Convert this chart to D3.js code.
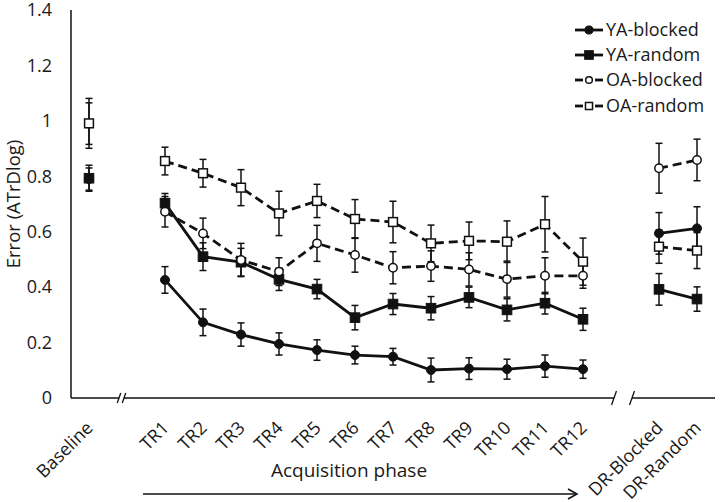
<!DOCTYPE html>
<html>
<head>
<meta charset="utf-8">
<script src="https://cdn.jsdelivr.net/npm/d3@7"></script>
<style>
  html, body { margin: 0; padding: 0; background: #fff; }
  svg { display: block; }
  text { font-family: "Open Sans", sans-serif; fill: #1a1a1a; }
</style>
</head>
<body>
<svg id="chart" width="720" height="502"></svg>
<script>
// ---------------- DATA ----------------
// x slots (gap slots are axis breaks)
const categories = ["Baseline", "", "TR1", "TR2", "TR3", "TR4", "TR5", "TR6", "TR7", "TR8", "TR9", "TR10", "TR11", "TR12", " ", "DR-Blocked", "DR-Random"];

const yTicks = [0, 0.2, 0.4, 0.6, 0.8, 1, 1.2, 1.4];

const seriesNames = ["YA-blocked", "YA-random", "OA-blocked", "OA-random"];

const yaBlocked    = [0.79, null, 0.426, 0.273, 0.229, 0.195, 0.173, 0.155, 0.149, 0.101, 0.106, 0.104, 0.115, 0.104, null, 0.594, 0.612];
const yaBlockedErr = [0.040, null, 0.048, 0.048, 0.042, 0.040, 0.037, 0.032, 0.030, 0.043, 0.039, 0.036, 0.040, 0.033, null, 0.075, 0.078];

const yaRandom     = [0.793, null, 0.703, 0.510, 0.490, 0.428, 0.393, 0.290, 0.339, 0.324, 0.363, 0.318, 0.342, 0.284, null, 0.392, 0.357];
const yaRandomErr  = [0.047, null, 0.035, 0.050, 0.050, 0.040, 0.035, 0.044, 0.038, 0.042, 0.037, 0.040, 0.039, 0.040, null, 0.057, 0.044];

const oaBlocked    = [0.99, null, 0.672, 0.594, 0.498, 0.456, 0.558, 0.516, 0.470, 0.476, 0.464, 0.429, 0.441, 0.441, null, 0.829, 0.859];
const oaBlockedErr = [0.075, null, 0.055, 0.055, 0.060, 0.050, 0.065, 0.062, 0.058, 0.055, 0.060, 0.065, 0.065, 0.045, null, 0.090, 0.075];

const oaRandom     = [0.991, null, 0.855, 0.811, 0.759, 0.666, 0.711, 0.646, 0.635, 0.558, 0.567, 0.564, 0.627, 0.492, null, 0.546, 0.532];
const oaRandomErr  = [0.090, null, 0.050, 0.050, 0.065, 0.080, 0.060, 0.070, 0.075, 0.066, 0.068, 0.075, 0.100, 0.085, null, 0.060, 0.065];

const yTitle = "Error (ATrDlog)";
const xTitle = "Acquisition phase";

// ---------------- BUILD ----------------
const series = [
  { name: seriesNames[0], vals: yaBlocked, errs: yaBlockedErr, shape: "circle", filled: true,  dashed: false },
  { name: seriesNames[1], vals: yaRandom,  errs: yaRandomErr,  shape: "square", filled: true,  dashed: false },
  { name: seriesNames[2], vals: oaBlocked, errs: oaBlockedErr, shape: "circle", filled: false, dashed: true },
  { name: seriesNames[3], vals: oaRandom,  errs: oaRandomErr,  shape: "square", filled: false, dashed: true }
];

const svg = d3.select("#chart");
const ink = "#111";

const x = d3.scalePoint().domain(categories).range([89, 697]);
const y = d3.scaleLinear().domain([0, 1.4]).range([398, 10]);
const axisX0 = 71, axisX1 = 715;

// Y axis
const yAxis = d3.axisLeft(y).tickValues(yTicks).tickSize(0).tickPadding(19)
  .tickFormat(d => String(+d.toFixed(1)));
const gy = svg.append("g").attr("transform", `translate(${axisX0},0)`).call(yAxis);
gy.select(".domain").remove();
gy.selectAll("text").style("font-size", "18px").style("font-family", "Open Sans").attr("fill", ink);
svg.append("line").attr("x1", axisX0).attr("x2", axisX0).attr("y1", y(1.4)).attr("y2", y(0))
  .attr("stroke", ink).attr("stroke-width", 1.5);

// X axis with breaks
const gap1 = x(categories[1]), gap2 = x(categories[14]);
const segs = [[axisX0, gap1 - 8], [gap1 - 3, gap2 - 7], [gap2 + 11, axisX1]];
segs.forEach(s => {
  svg.append("line").attr("x1", s[0]).attr("x2", s[1]).attr("y1", y(0)).attr("y2", y(0))
    .attr("stroke", ink).attr("stroke-width", 1.5);
});
[[gap1 - 8, 5], [gap1 - 3, 5], [gap2 - 7, 7], [gap2 + 11, 7]].forEach(([bx, h]) => {
  svg.append("line").attr("x1", bx - h * 0.35).attr("x2", bx + h * 0.35)
    .attr("y1", y(0) + h).attr("y2", y(0) - h)
    .attr("stroke", ink).attr("stroke-width", 1.3);
});

// X tick labels (rotated)
const gx = svg.append("g");
gx.selectAll("text").data(categories.filter(c => c.trim() !== "")).join("text")
  .attr("transform", d => `translate(${x(d) + 5},${y(0) + 31}) rotate(-45)`)
  .attr("text-anchor", "end")
  .style("font-size", "18px")
  .text(d => d);

// Axis titles
svg.append("text").attr("transform", `translate(20,${(y(0) + y(1.4)) / 2}) rotate(-90)`)
  .attr("text-anchor", "middle").style("font-size", "18.5px").text(yTitle);
svg.append("text").attr("x", 349).attr("y", 477).attr("text-anchor", "middle")
  .style("font-size", "19px").text(xTitle);

// Arrow
const ax0 = x("TR1") - 22, ax1 = x("TR12") - 6, ay = 494;
svg.append("line").attr("x1", ax0).attr("x2", ax1).attr("y1", ay).attr("y2", ay)
  .attr("stroke", ink).attr("stroke-width", 1.5);
svg.append("path").attr("d", `M${ax1 - 9},${ay - 5} L${ax1},${ay} L${ax1 - 9},${ay + 5}`)
  .attr("fill", "none").attr("stroke", ink).attr("stroke-width", 1.5);

// Error bars
const capW = 3.5;
series.forEach(s => {
  const g = svg.append("g");
  s.vals.forEach((v, i) => {
    if (v == null) return;
    const cx = x(categories[i]);
    const e = s.errs[i];
    const y1 = y(v + e), y2 = y(v - e);
    g.append("line").attr("x1", cx).attr("x2", cx).attr("y1", y1).attr("y2", y2)
      .attr("stroke", ink).attr("stroke-width", 1.5);
    [y1, y2].forEach(yy => g.append("line").attr("x1", cx - capW).attr("x2", cx + capW)
      .attr("y1", yy).attr("y2", yy).attr("stroke", ink).attr("stroke-width", 1.5));
  });
});

// Lines
const line = d3.line().defined(d => d.v != null).x(d => x(d.c)).y(d => y(d.v));
series.forEach(s => {
  const pts = s.vals.map((v, i) => ({ c: categories[i], v: v }));
  svg.append("path").datum(pts).attr("d", line)
    .attr("fill", "none").attr("stroke", ink).attr("stroke-width", 2.8)
    .attr("stroke-dasharray", s.dashed ? "9,5" : null);
});

// Markers
function marker(g, s, cx, cy, scale) {
  if (s.shape === "circle") {
    g.append("circle").attr("cx", cx).attr("cy", cy).attr("r", (s.filled ? 4.5 : 4.2) * scale)
      .attr("fill", s.filled ? ink : "#fff").attr("stroke", ink).attr("stroke-width", s.filled ? 1 : 1.5);
  } else {
    const h = (s.filled ? 4.8 : 4.4) * scale;
    g.append("rect").attr("x", cx - h).attr("y", cy - h).attr("width", 2 * h).attr("height", 2 * h)
      .attr("fill", s.filled ? ink : "#fff").attr("stroke", ink).attr("stroke-width", s.filled ? 1 : 1.5);
  }
}
series.forEach(s => {
  const g = svg.append("g");
  s.vals.forEach((v, i) => {
    if (v == null) return;
    marker(g, s, x(categories[i]), y(v), 1);
  });
});

// Legend
const lg = svg.append("g");
const rowY = [30, 55, 80, 106];
series.forEach((s, i) => {
  const ly = rowY[i];
  if (s.dashed) {
    lg.append("line").attr("x1", 575).attr("x2", 583).attr("y1", ly).attr("y2", ly).attr("stroke", ink).attr("stroke-width", 2.8);
    lg.append("line").attr("x1", 595).attr("x2", 603).attr("y1", ly).attr("y2", ly).attr("stroke", ink).attr("stroke-width", 2.8);
  } else {
    lg.append("line").attr("x1", 575).attr("x2", 603).attr("y1", ly).attr("y2", ly).attr("stroke", ink).attr("stroke-width", 2.8);
  }
  marker(lg, s, 589, ly, s.dashed ? 0.8 : 0.9);
  lg.append("text").attr("x", 606).attr("y", ly).attr("dy", "0.35em")
    .style("font-size", "18px").text(s.name);
});
</script>
</body>
</html>
